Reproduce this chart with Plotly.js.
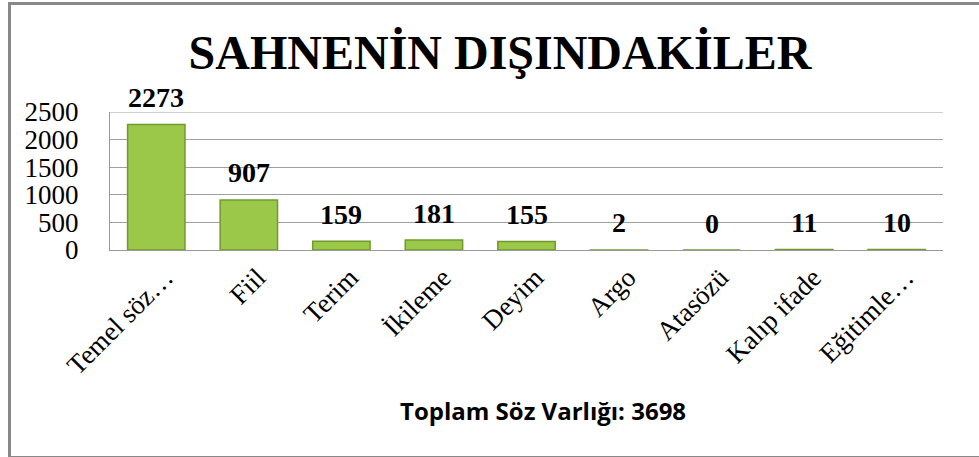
<!DOCTYPE html>
<html>
<head>
<meta charset="utf-8">
<script src="https://cdn.plot.ly/plotly-3.0.1.min.js"></script>
<style>
html,body{margin:0;padding:0;background:#fff;overflow:hidden;}
#chart{width:979px;height:457px;position:absolute;left:0;top:0;}
#frame{position:absolute;left:8px;top:2px;width:990px;height:451px;border:3px solid #888;pointer-events:none;box-sizing:content-box;}
</style>
</head>
<body>
<div id="chart"></div>
<div id="frame"></div>
<script>
const categories = ["Temel söz…", "Fiil", "Terim", "İkileme", "Deyim", "Argo", "Atasözü", "Kalıp ifade", "Eğitimle…"];
const values = [2273, 907, 159, 181, 155, 2, 0, 11, 10];
const yTicks = [0, 500, 1000, 1500, 2000, 2500];
const chartTitle = "SAHNENİN DIŞINDAKİLER";
const footnote = "Toplam Söz Varlığı: 3698";

const serif = "Liberation Serif, Times New Roman, serif";

const trace = {
  type: "bar",
  x: categories,
  y: values,
  marker: {color: "#9cc84a", line: {color: "#6f9a2c", width: 1.5}},
  hoverinfo: "none"
};

const valueLabels = categories.map((c, i) => ({
  x: c, y: values[i], xref: "x", yref: "y",
  text: "<b>" + values[i] + "</b>",
  showarrow: false, yanchor: "middle", yshift: 27,
  font: {family: serif, size: 28, color: "#000"}
}));

const layout = {
  width: 979, height: 457,
  margin: {l: 110, r: 36, t: 112, b: 207},
  paper_bgcolor: "#fff", plot_bgcolor: "#fff",
  showlegend: false,
  bargap: 0.38,
  title: {
    text: "<b>" + chartTitle + "</b>",
    font: {family: serif, size: 48, color: "#000"},
    x: 500/979, xanchor: "center", xref: "container",
    y: 1 - 52/457, yanchor: "middle", yref: "container"
  },
  xaxis: {
    type: "category",
    tickangle: -45,
    tickfont: {family: serif, size: 27, color: "#000"},
    ticklabelshift: 9,
    showgrid: false,
    showline: true, linecolor: "#999", linewidth: 1,
    ticks: "", automargin: false
  },
  yaxis: {
    range: [0, 2500],
    tickvals: yTicks,
    ticktext: yTicks.map(String),
    tickfont: {family: serif, size: 27, color: "#000"},
    showgrid: true, gridcolor: "#a0a0a0", gridwidth: 1,
    zeroline: false,
    showline: true, linecolor: "#999", linewidth: 1,
    ticks: "", ticklabelstandoff: 25, automargin: false
  },
  shapes: [{type: "line", xref: "paper", yref: "y", x0: 0, x1: 1, y0: 2500, y1: 2500, line: {color: "#a0a0a0", width: 1}}],
  annotations: valueLabels.concat([{
    text: "<b>" + footnote + "</b>",
    xref: "paper", yref: "paper",
    x: (543 - 110) / 833, y: -1.16, xanchor: "center", yanchor: "middle",
    showarrow: false,
    font: {family: "Open Sans, Liberation Sans, sans-serif", size: 24, color: "#000"}
  }])
};

Plotly.newPlot("chart", [trace], layout, {staticPlot: true, displayModeBar: false});
</script>
</body>
</html>
